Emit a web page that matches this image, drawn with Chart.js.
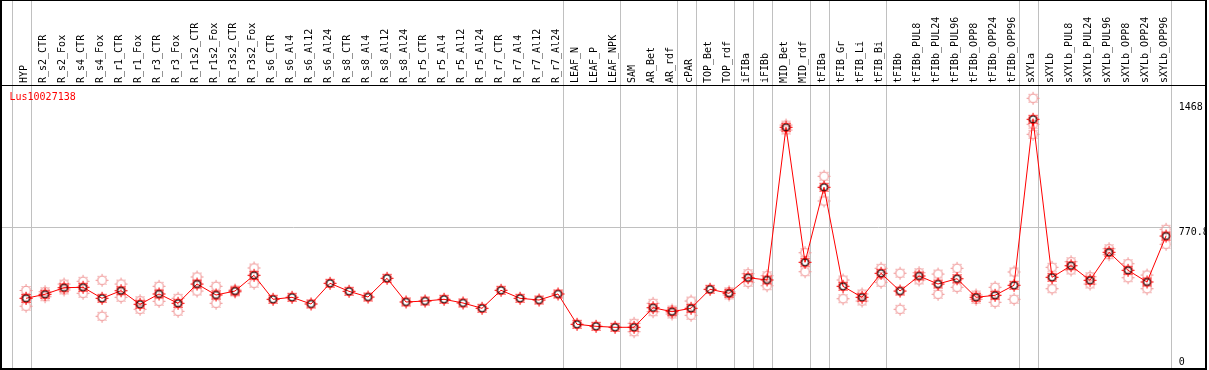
<!DOCTYPE html>
<html>
<head>
<meta charset="utf-8">
<script src="https://cdn.jsdelivr.net/npm/chart.js@4/dist/chart.umd.min.js"></script>
<style>
html,body{margin:0;padding:0;background:#fff;}
#wrap{width:1209px;height:370px;position:relative;}
</style>
</head>
<body>
<div id="wrap"><canvas id="c" width="1209" height="370"></canvas></div>
<script>
const geneName = 'Lus10027138';
const categories = ['HYP','R_s2_CTR','R_s2_Fox','R_s4_CTR','R_s4_Fox','R_r1_CTR','R_r1_Fox','R_r3_CTR','R_r3_Fox',
 'R_r1s2_CTR','R_r1s2_Fox','R_r3s2_CTR','R_r3s2_Fox','R_s6_CTR','R_s6_Al4','R_s6_Al12','R_s6_Al24',
 'R_s8_CTR','R_s8_Al4','R_s8_Al12','R_s8_Al24','R_r5_CTR','R_r5_Al4','R_r5_Al12','R_r5_Al24',
 'R_r7_CTR','R_r7_Al4','R_r7_Al12','R_r7_Al24','LEAF_N','LEAF_P','LEAF_NPK','SAM','AR_Bet','AR_rdf',
 'cPAR','TOP_Bet','TOP_rdf','iFIBa','iFIBb','MID_Bet','MID_rdf','tFIBa','tFIB_Gr','tFIB_Li','tFIB_Bi',
 'tFIBb','tFIBb_PUL8','tFIBb_PUL24','tFIBb_PUL96','tFIBb_OPP8','tFIBb_OPP24','tFIBb_OPP96',
 'sXYLa','sXYLb','sXYLb_PUL8','sXYLb_PUL24','sXYLb_PUL96','sXYLb_OPP8','sXYLb_OPP24','sXYLb_OPP96'];

const meanValues = [378.7,401.0,437.8,440.0,378.7,421.1,345.2,402.7,350.8,458.4,397.1,419.4,507.0,
 373.1,384.3,346.9,462.3,417.7,385.9,490.2,358.1,363.6,373.1,352.5,322.9,423.3,378.7,369.2,402.7,
 233.7,222.5,216.9,216.9,326.3,304.0,322.9,428.9,406.6,493.6,480.8,1332.4,579.5,997.8,445.6,384.3,518.1,
 419.4,503.1,458.4,488.0,384.3,395.4,451.2,1377.0,495.8,560.5,479.1,635.2,534.9,469.6,726.1];

const rep1Values = [422.2,415.5,458.4,473.5,479.1,458.4,365.3,445.6,378.7,497.5,445.6,425.0,547.7,
 null,null,null,null,null,null,null,null,null,null,null,null,null,null,null,null,
 null,null,null,239.3,350.8,313.4,363.6,null,415.5,515.9,504.7,1345.2,633.0,1059.1,480.8,402.7,546.0,
 518.7,521.5,514.2,546.0,397.1,440.0,525.4,1494.1,551.6,582.8,499.2,655.3,571.7,508.6,763.5];

const rep2Values = [334.6,387.6,425.0,406.6,278.3,384.3,317.3,362.0,306.2,419.4,350.8,413.8,462.3,
 null,null,null,null,null,null,null,null,null,null,null,null,null,null,null,null,
 null,null,null,192.4,304.0,291.1,283.9,null,397.1,467.9,449.0,1317.3,527.0,921.4,376.5,363.6,467.9,
 317.3,480.8,401.0,440.0,373.1,356.4,373.1,1349.1,432.2,536.5,458.4,621.9,493.6,432.2,679.9];

const rep3Values = [378.7,null,null,null,null,null,null,null,null,null,null,null,null,
 null,null,null,null,null,null,null,null,null,null,null,null,null,null,null,null,
 null,null,null,null,null,null,null,null,null,null,null,null,null,null,null,null,null,
 null,null,null,null,null,null,null,1293.3,null,null,null,null,null,null,null];

const yTickValues = [0, 770.8, 1468];
const yTickLabels = [['0',''], '770.8', '1468.'];
const groupEnds = [-1, 0, 28, 31, 34, 35, 37, 38, 39, 41, 42, 45, 52, 53, 60];

function makeMarker(ring, inner, tick){
  const c = document.createElement('canvas');
  c.width = 15; c.height = 15;
  const g = c.getContext('2d');
  const cx = 7.5, cy = 7.5;
  g.lineWidth = 1.1;
  g.strokeStyle = ring;
  g.beginPath(); g.arc(cx, cy, 4.3, 0, Math.PI*2); g.stroke();
  if (inner){
    g.strokeStyle = inner; g.lineWidth = 1;
    g.beginPath(); g.arc(cx, cy, 3.4, 0, Math.PI*2); g.stroke();
  }
  g.fillStyle = tick;
  g.fillRect(7,1,1,2); g.fillRect(7,12,1,2); g.fillRect(1,7,2,1); g.fillRect(12,7,2,1);
  g.fillRect(3,3,1,1); g.fillRect(11,3,1,1); g.fillRect(3,11,1,1); g.fillRect(11,11,1,1);
  return c;
}
const meanMarker = makeMarker('#ff0000', '#000000', '#ff0000');
const repMarker = makeMarker('#f09898', null, '#f09898');

const toPts = arr => arr.map((v,i)=> ({x:i, y:v}));

const zeroPad = s => { s.paddingLeft = 0; s.paddingRight = 0; s.paddingTop = 0; s.paddingBottom = 0; };

const framePlugin = {
  id: 'frame',
  beforeDraw(chart){
    const ctx = chart.ctx;
    ctx.save();
    ctx.fillStyle = '#fff';
    ctx.fillRect(0,0,chart.width,chart.height);
    const xs = chart.scales.x;
    ctx.strokeStyle = '#c0c0c0';
    ctx.lineWidth = 1;
    groupEnds.forEach(g => {
      const px = Math.round(xs.getPixelForValue(g + 0.247)) + 0.5;
      ctx.beginPath(); ctx.moveTo(px, 0); ctx.lineTo(px, 369); ctx.stroke();
    });
    ctx.restore();
  },
  afterDraw(chart){
    const ctx = chart.ctx;
    ctx.save();
    ctx.fillStyle = '#000';
    ctx.fillRect(0,0,1207,1);
    ctx.fillRect(0,85,1207,1);
    ctx.fillRect(0,368,1207,2);
    ctx.fillRect(0,0,2,370);
    ctx.fillRect(1205,0,2,370);
    ctx.fillStyle = '#fff';
    ctx.fillRect(1207,0,2,370);
    ctx.fillStyle = '#ff0000';
    ctx.font = '10px "DejaVu Sans Mono"';
    ctx.textBaseline = 'middle';
    ctx.textAlign = 'left';
    ctx.fillText(geneName, 9.5, 97.5);
    ctx.restore();
  }
};

new Chart(document.getElementById('c'), {
  type: 'line',
  data: {
    datasets: [
      { label: 'mean', data: toPts(meanValues), borderColor: '#ff0000', borderWidth: 1,
        pointStyle: meanMarker, pointRadius: 5, tension: 0, order: 0, fill: false },
      { label: 'rep1', data: toPts(rep1Values), showLine: false, pointStyle: repMarker, pointRadius: 5, order: 1 },
      { label: 'rep2', data: toPts(rep2Values), showLine: false, pointStyle: repMarker, pointRadius: 5, order: 1 },
      { label: 'rep3', data: toPts(rep3Values), showLine: false, pointStyle: repMarker, pointRadius: 5, order: 1 }
    ]
  },
  options: {
    responsive: false,
    animation: false,
    spanGaps: false,
    layout: { autoPadding: false, padding: { left: 1, right: 0, top: 0, bottom: 1 } },
    plugins: { legend: { display: false }, tooltip: { enabled: false } },
    scales: {
      x: {
        type: 'linear', position: 'top',
        min: -1.3158, max: 60.247,
        grid: { display: false, drawTicks: false },
        border: { display: false },
        afterBuildTicks: s => { s.ticks = categories.map((c,i)=>({value:i})); },
        afterFit: s => { s.height = 85; zeroPad(s); },
        ticks: {
          autoSkip: false, minRotation: 90, maxRotation: 90, padding: 2, labelOffset: 10.5,
          color: '#000', font: { family: 'DejaVu Sans Mono', size: 10 },
          callback: v => categories[v]
        }
      },
      y: {
        type: 'linear', position: 'right',
        min: -15.62, max: 1568.3,
        border: { display: false },
        grid: { drawTicks: false, color: c => (c.tick && c.tick.value === 770.8) ? '#c0c0c0' : 'rgba(0,0,0,0)' },
        afterBuildTicks: s => { s.ticks = yTickValues.map(v=>({value:v})); },
        afterFit: s => { s.width = 38.3; zeroPad(s); },
        ticks: {
          padding: 8, labelOffset: 4.5, color: '#000',
          font: { family: 'DejaVu Sans Mono', size: 10, lineHeight: 1.75 },
          callback: (v) => { const k = yTickValues.indexOf(v); return k >= 0 ? yTickLabels[k] : ''; }
        }
      }
    }
  },
  plugins: [framePlugin]
});
</script>
</body>
</html>
